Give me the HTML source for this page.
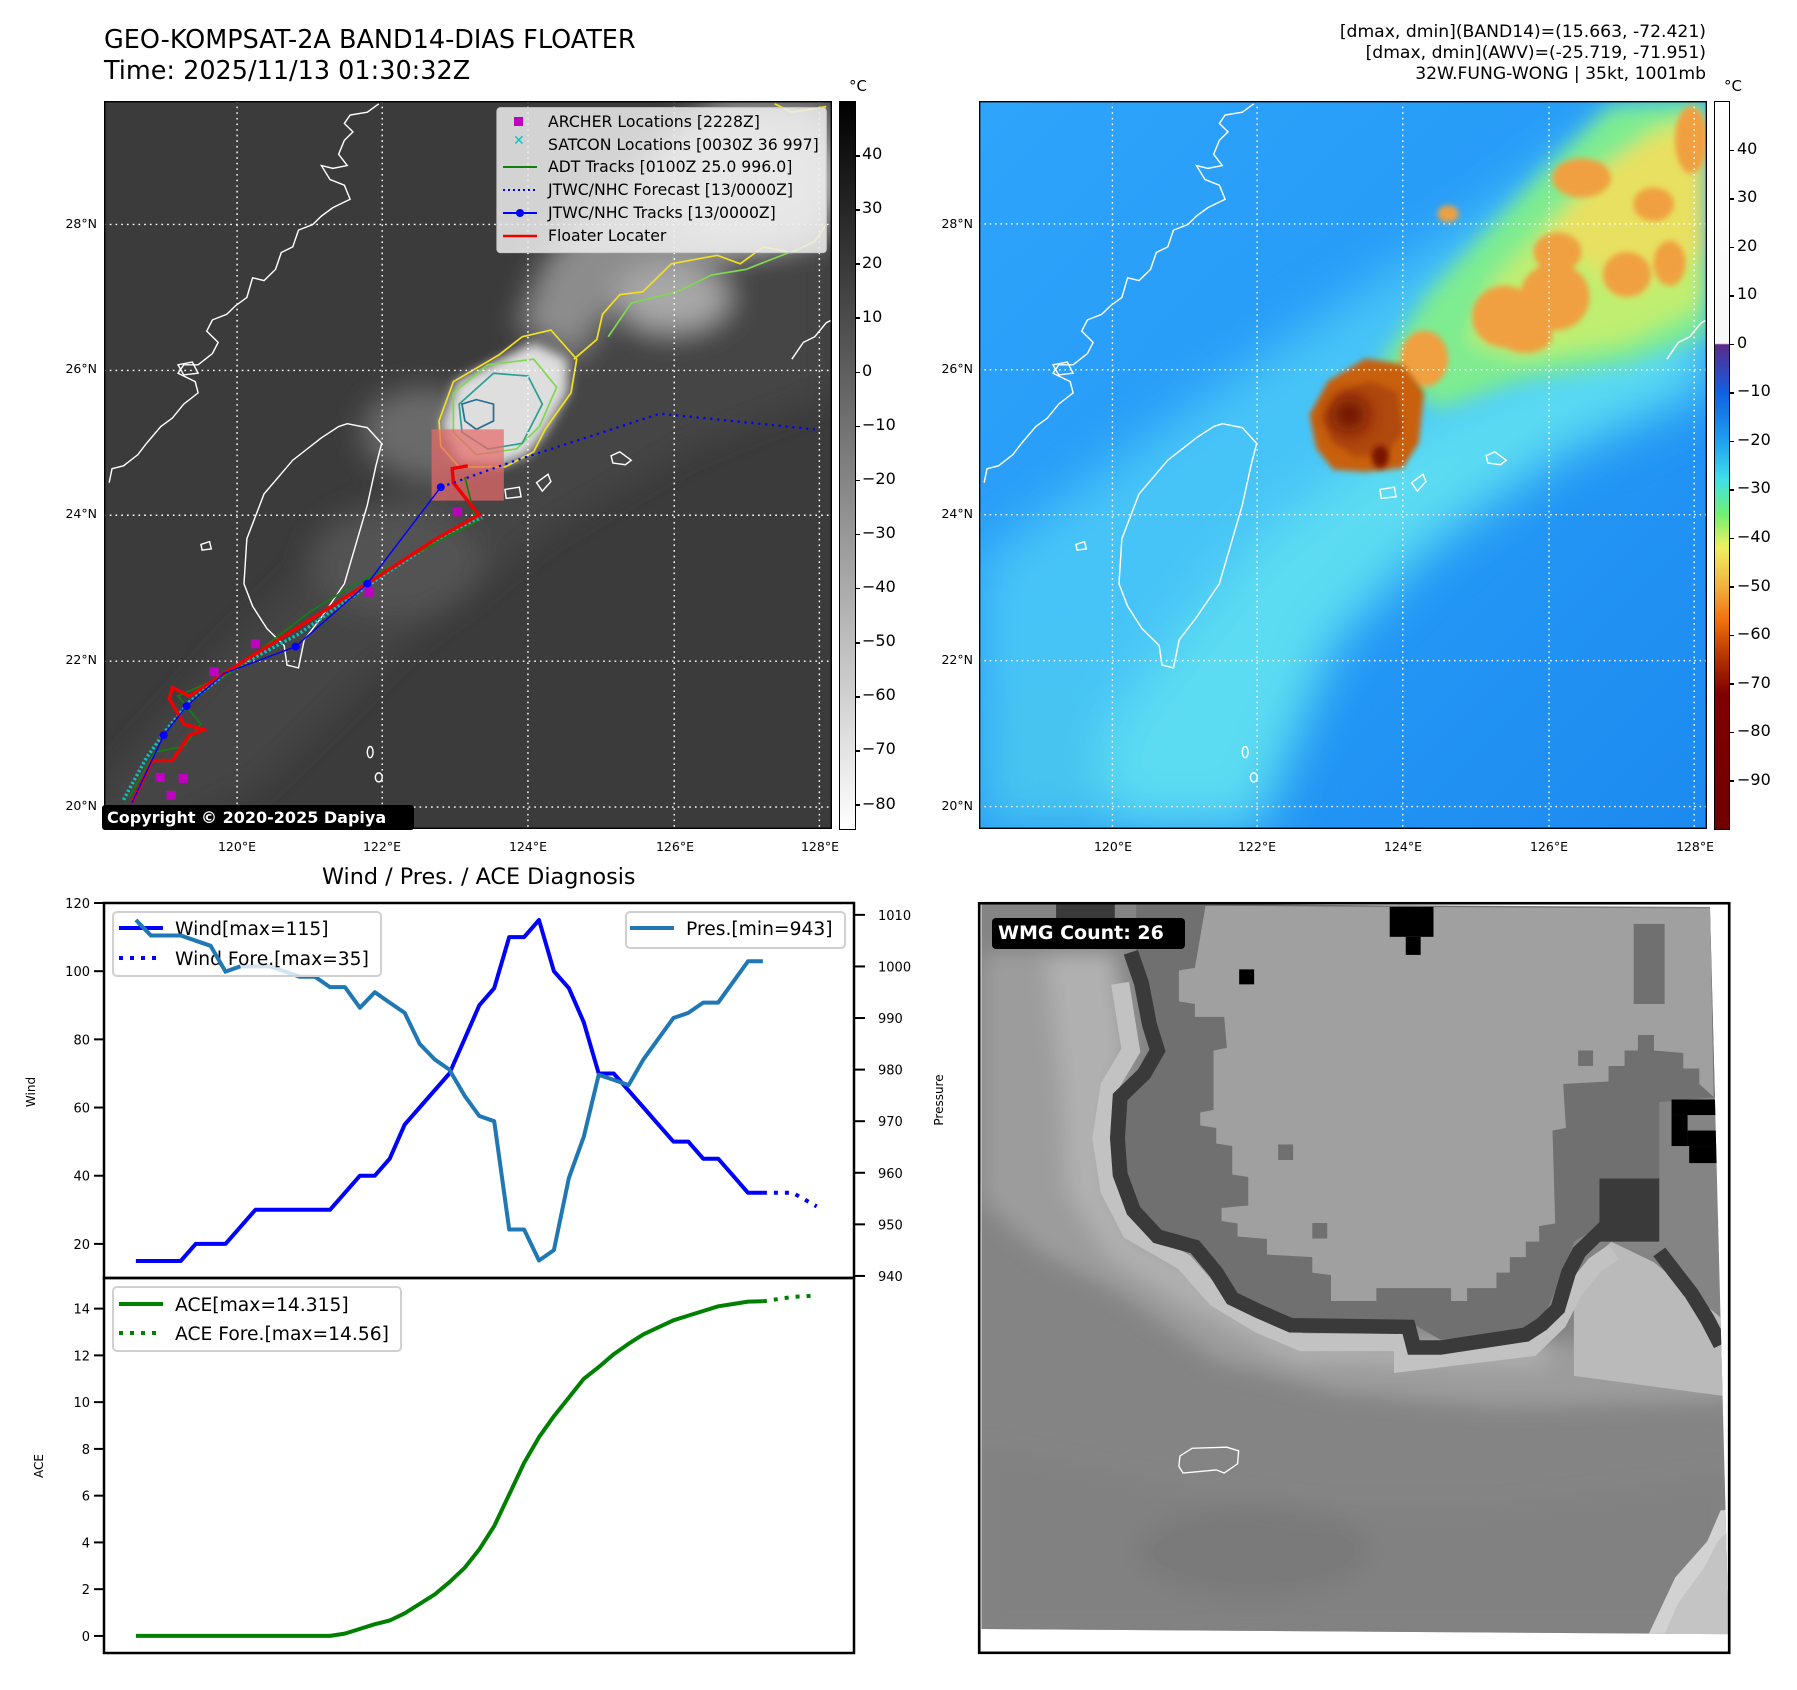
<!DOCTYPE html>
<html><head><meta charset="utf-8">
<style>
html,body{margin:0;padding:0;background:#fff;}
body{width:1797px;height:1690px;position:relative;overflow:hidden;font-family:"DejaVu Sans","Liberation Sans",sans-serif;color:#000;}
.t{position:absolute;white-space:nowrap;line-height:1;}
svg{position:absolute;overflow:hidden;}
</style></head>
<body>
<div class="t" style="left:104px;top:28px;font-size:25.5px;">GEO-KOMPSAT-2A BAND14-DIAS FLOATER</div>
<div class="t" style="left:104px;top:59px;font-size:25.5px;">Time: 2025/11/13 01:30:32Z</div>
<div class="t" style="right:91px;top:24px;font-size:17.2px;">[dmax, dmin](BAND14)=(15.663, -72.421)</div>
<div class="t" style="right:91px;top:45px;font-size:17.2px;">[dmax, dmin](AWV)=(-25.719, -71.951)</div>
<div class="t" style="right:91px;top:66px;font-size:17.2px;">32W.FUNG-WONG | 35kt, 1001mb</div>

<!-- LEFT MAP -->
<svg style="left:104px;top:101px;width:728px;height:728px" viewBox="181 180 1269 1297" preserveAspectRatio="none">
<defs>
<filter id="b1" x="-50%" y="-50%" width="200%" height="200%"><feGaussianBlur stdDeviation="25"/></filter>
<filter id="b2" x="-50%" y="-50%" width="200%" height="200%"><feGaussianBlur stdDeviation="10"/></filter>
<g id="coast" fill="none" stroke="#fff" stroke-width="2.5">
<polyline points="660,185 640,200 610,205 600,220 615,235 600,250 590,275 605,295 580,300 560,295 575,320 600,330 610,355 580,370 560,385 545,400 520,410 510,440 490,450 480,480 460,500 440,495 430,530 410,545 395,560 370,570 360,590 380,610 370,630 345,650 320,650 310,665 340,680 345,700 320,720 300,745 280,760 255,790 240,810 215,830 195,835 190,860"/>
<path d="M605,755 L640,762 L665,790 L655,830 L640,900 L620,970 L600,1040 L560,1100 L530,1140 L520,1190 L500,1185 L495,1150 L465,1120 L440,1080 L425,1040 L430,960 L460,880 L510,820 L560,780 L590,760 Z"/>
<path d="M1065,812 L1080,805 L1100,820 L1090,828 L1068,825 Z"/>
<path d="M880,872 L905,868 L908,885 L882,888 Z"/>
<path d="M935,860 L955,845 L960,858 L945,875 Z"/>
<path d="M310,650 L335,645 L345,665 L320,668 Z"/>
<polyline points="1380,640 1400,610 1420,600 1440,575 1450,570"/>
<ellipse cx="645" cy="1340" rx="5" ry="10"/>
<ellipse cx="660" cy="1385" rx="6" ry="8"/>
<path d="M350,970 L365,965 L368,978 L352,980 Z"/>
</g>
</defs>
<rect x="181" y="180" width="1269" height="1297" fill="#3b3b3b"/>
<g filter="url(#b1)">
<polygon points="181,1400 400,1150 600,950 800,800 1000,640 1250,460 1450,380 1450,700 1200,800 950,950 700,1150 450,1400 300,1477 181,1477" fill="#444"/>
<ellipse cx="690" cy="1000" rx="150" ry="100" fill="#535353"/>
<ellipse cx="740" cy="770" rx="110" ry="80" fill="#6a6a6a"/>
<polygon points="1000,640 1060,560 1150,490 1300,450 1450,420 1450,180 1250,180 1100,300 950,460 900,580" fill="#8c8c8c"/>
<ellipse cx="1300" cy="320" rx="170" ry="120" fill="#b8b8b8"/>
<ellipse cx="1170" cy="530" rx="100" ry="60" fill="#a8a8a8"/>
</g>
<path filter="url(#b2)" d="M770,760 L795,680 L870,640 L930,610 L990,640 L990,700 L950,770 L920,810 L870,830 L800,825 Z" fill="#dedede"/>
<g fill="none" stroke-width="3">
<path stroke="#f0e020" d="M765,750 L790,680 L870,632 L910,600 L960,588 L1005,640 L995,700 L950,765 L930,805 L880,832 L800,832 L768,795 Z"/>
<path stroke="#f0e020" d="M1000,640 L1040,605 L1050,560 L1080,525 L1120,520 L1170,470 L1250,455 L1290,470 L1330,440 L1380,450 L1420,430 L1440,400"/>
<path stroke="#f0e020" d="M1350,185 L1380,200 L1440,190"/>
<path stroke="#7fd850" d="M790,700 L850,650 L930,640 L970,690 L940,760 L900,800 L830,810 L790,770 Z"/>
<path stroke="#7fd850" d="M1060,600 L1100,540 L1180,520 L1240,490 L1300,480 L1400,440"/>
<path stroke="#2aa090" d="M800,720 L860,665 L920,670 L945,720 L910,790 L850,800 L805,770 Z"/>
<path stroke="#2a6e90" d="M805,720 L830,712 L860,720 L860,750 L830,765 L810,750 Z"/>
</g>
<g stroke="#fff" stroke-width="2.5" stroke-dasharray="3,7" fill="none">
<line x1="413" y1="180" x2="413" y2="1477"/><line x1="666" y1="180" x2="666" y2="1477"/><line x1="920" y1="180" x2="920" y2="1477"/><line x1="1175" y1="180" x2="1175" y2="1477"/><line x1="1428" y1="180" x2="1428" y2="1477"/>
<line x1="181" y1="400" x2="1450" y2="400"/><line x1="181" y1="660" x2="1450" y2="660"/><line x1="181" y1="918" x2="1450" y2="918"/><line x1="181" y1="1178" x2="1450" y2="1178"/><line x1="181" y1="1438" x2="1450" y2="1438"/>
</g>
<use href="#coast"/>
<rect x="752" y="765" width="126" height="127" fill="#e86a6a" fill-opacity="0.72"/>
<polyline points="215,1425 255,1350 290,1300 330,1250 400,1195 520,1130 660,1030 780,950 840,922" fill="none" stroke="#10c0c0" stroke-width="6" stroke-dasharray="4,4"/>
<polyline points="225,1420 270,1340 320,1330 350,1290 310,1240 400,1200 540,1090 620,1040 700,1000 800,945 830,930 810,850" fill="none" stroke="#108010" stroke-width="3"/>
<polyline points="230,1430 265,1355 300,1355 330,1310 355,1300 320,1290 295,1245 300,1225 330,1240 390,1200 500,1130 640,1040 760,960 830,920 835,918 790,860 788,835 815,830" fill="none" stroke="#f00000" stroke-width="6"/>
<polyline points="230,1430 285,1310 325,1258 390,1200 515,1152 640,1040 768,868" fill="none" stroke="#0000ff" stroke-width="2.5"/>
<polyline points="768,868 900,820 1150,737 1420,765" fill="none" stroke="#0000ff" stroke-width="4" stroke-dasharray="4,8"/>
<g fill="#0000ff"><circle cx="285" cy="1310" r="7"/><circle cx="325" cy="1258" r="7"/><circle cx="515" cy="1152" r="7"/><circle cx="640" cy="1040" r="7"/><circle cx="768" cy="868" r="7"/></g>
<g fill="#c000c0"><rect x="789" y="904" width="16" height="16"/><rect x="635" y="1047" width="16" height="16"/><rect x="437" y="1139" width="16" height="16"/><rect x="365" y="1189" width="16" height="16"/><rect x="271" y="1377" width="16" height="16"/><rect x="311" y="1379" width="16" height="16"/><rect x="290" y="1409" width="16" height="16"/></g>
<rect x="866" y="192" width="574" height="258" rx="6" fill="#efefef" fill-opacity="0.85" stroke="#ccc" stroke-width="2"/>
<rect x="181" y="180" width="1269" height="1297" fill="none" stroke="#000" stroke-width="5"/>
</svg>
<div>
<svg style="left:500px;top:112px;width:42px;height:132px" viewBox="0 0 42 132">
<rect x="14" y="5" width="9" height="9" fill="#c000c0"/>
<text x="13" y="33" font-size="14" fill="#10c0c0" font-family="DejaVu Sans" font-weight="bold">✕</text>
<line x1="3" y1="55" x2="37" y2="55" stroke="#108010" stroke-width="2"/>
<line x1="3" y1="78" x2="37" y2="78" stroke="#0000ff" stroke-width="2" stroke-dasharray="2,3"/>
<line x1="3" y1="101" x2="37" y2="101" stroke="#0000ff" stroke-width="2"/><circle cx="20" cy="101" r="4" fill="#0000ff"/>
<line x1="3" y1="124" x2="37" y2="124" stroke="#f00000" stroke-width="2.5"/>
</svg>
<div class="t" style="left:548px;top:114px;font-size:15.7px;">ARCHER Locations [2228Z]</div>
<div class="t" style="left:548px;top:137px;font-size:15.7px;">SATCON Locations [0030Z 36 997]</div>
<div class="t" style="left:548px;top:159px;font-size:15.7px;">ADT Tracks [0100Z 25.0 996.0]</div>
<div class="t" style="left:548px;top:182px;font-size:15.7px;">JTWC/NHC Forecast [13/0000Z]</div>
<div class="t" style="left:548px;top:205px;font-size:15.7px;">JTWC/NHC Tracks [13/0000Z]</div>
<div class="t" style="left:548px;top:228px;font-size:15.7px;">Floater Locater</div>
</div>
<div class="t" style="left:102px;top:805px;height:25px;width:312px;background:#000;color:#fff;font-weight:bold;font-size:16px;line-height:25px;border-radius:3px;padding-left:5px;box-sizing:border-box;">Copyright © 2020-2025 Dapiya</div>

<div style="position:absolute;left:839px;top:101px;width:15px;height:727px;border:1px solid #000;background:linear-gradient(#000,#fff);"></div>
<div class="t" style="left:849px;top:79px;font-size:15px;">°C</div>
<div id="lcb"></div>

<!-- RIGHT MAP -->
<svg style="left:979px;top:101px;width:728px;height:728px" viewBox="36 181 1364 1297" preserveAspectRatio="none">
<defs>
<linearGradient id="bg2" x1="0" y1="0" x2="1" y2="1"><stop offset="0" stop-color="#2ea4fb"/><stop offset="0.6" stop-color="#2498f6"/><stop offset="1" stop-color="#1c8af0"/></linearGradient>
<filter id="c1" x="-50%" y="-50%" width="200%" height="200%"><feGaussianBlur stdDeviation="45"/></filter>
<filter id="c2" x="-50%" y="-50%" width="200%" height="200%"><feGaussianBlur stdDeviation="18"/></filter>
<filter id="c3" x="-50%" y="-50%" width="200%" height="200%"><feGaussianBlur stdDeviation="5"/></filter>
</defs>
<rect x="36" y="181" width="1364" height="1297" fill="url(#bg2)"/>
<g filter="url(#c1)">
<polygon points="36,1000 250,850 500,680 750,520 950,400 1150,260 1250,181 1400,181 1400,700 1150,800 950,930 750,1080 600,1260 500,1478 36,1478" fill="#46c4f7"/>
<polygon points="150,1478 350,1200 560,960 780,800 1000,700 1400,560 1400,680 1100,820 880,970 700,1150 560,1478" fill="#5cdcf2"/>
<polygon points="36,1300 200,1150 300,1478 36,1478" fill="#46c4f0"/>
</g>
<g filter="url(#c2)">
<polygon points="780,660 880,520 1000,400 1100,300 1220,190 1400,181 1400,600 1250,650 1050,680 900,730" fill="#7eec90"/>
<polygon points="950,610 1000,500 1100,400 1200,310 1300,230 1400,200 1400,540 1250,610 1050,640" fill="#c0ee70"/>
<polygon points="1100,420 1200,300 1300,240 1400,220 1400,450 1250,520" fill="#e8e060"/>
</g>
<g filter="url(#c3)" fill="#f0a040">
<ellipse cx="1165" cy="318" rx="55" ry="35"/><ellipse cx="1300" cy="365" rx="38" ry="30"/><ellipse cx="1020" cy="565" rx="60" ry="55"/><ellipse cx="1115" cy="530" rx="65" ry="60"/><ellipse cx="1250" cy="490" rx="45" ry="40"/><ellipse cx="915" cy="382" rx="20" ry="15"/><ellipse cx="870" cy="640" rx="45" ry="50"/><ellipse cx="1120" cy="450" rx="45" ry="35"/><ellipse cx="1370" cy="250" rx="30" ry="60"/><ellipse cx="1060" cy="600" rx="50" ry="30"/><ellipse cx="1330" cy="470" rx="30" ry="40"/>
</g>
<path filter="url(#c3)" d="M655,740 L690,680 L760,640 L830,650 L870,700 L860,790 L830,835 L760,842 L700,838 L668,800 Z" fill="#c86010"/>
<path filter="url(#c3)" d="M680,745 L710,700 L770,680 L820,700 L830,770 L800,810 L740,815 L700,790 Z" fill="#b04808"/>
<ellipse filter="url(#c2)" cx="730" cy="740" rx="35" ry="30" fill="#6a1000"/>
<ellipse filter="url(#c3)" cx="788" cy="815" rx="16" ry="20" fill="#7a1800"/>
<g stroke="#fff" stroke-width="2.5" stroke-dasharray="3,7" fill="none">
<line x1="286" y1="181" x2="286" y2="1478"/><line x1="557" y1="181" x2="557" y2="1478"/><line x1="830" y1="181" x2="830" y2="1478"/><line x1="1104" y1="181" x2="1104" y2="1478"/><line x1="1376" y1="181" x2="1376" y2="1478"/>
<line x1="36" y1="400" x2="1400" y2="400"/><line x1="36" y1="660" x2="1400" y2="660"/><line x1="36" y1="918" x2="1400" y2="918"/><line x1="36" y1="1178" x2="1400" y2="1178"/><line x1="36" y1="1438" x2="1400" y2="1438"/>
</g>
<g transform="translate(36,181) scale(1.0749,1) translate(-181,-180)"><use href="#coast"/></g>
<rect x="36" y="181" width="1364" height="1297" fill="none" stroke="#000" stroke-width="5"/>
</svg>
<div style="position:absolute;left:1714px;top:101px;width:14px;height:727px;border:1px solid #000;background:linear-gradient(#fff 0%,#f8f8f8 33.2%,#5a2a8a 33.4%,#1060e0 40%,#20a0f0 46.7%,#40e0e8 52%,#70f070 56.7%,#f0f060 61.3%,#f0b040 66.7%,#f07010 71.3%,#b03000 76.7%,#800000 81.3%,#700000 100%);"></div>
<div class="t" style="left:1724px;top:79px;font-size:15px;">°C</div>
<div id="rcb"></div>
<div id="maplabels"></div>

<!-- WMG PANEL -->
<svg style="left:960px;top:880px;width:837px;height:810px" viewBox="0 0 1568 1568" preserveAspectRatio="none">
<defs>
<filter id="w1" x="-20%" y="-20%" width="140%" height="140%"><feGaussianBlur stdDeviation="20"/></filter>
<clipPath id="wc"><polygon points="40,45 1405,52 1440,1460 40,1450"/></clipPath>
</defs>
<rect x="36" y="45" width="1405" height="1451" fill="#fff"/>
<g clip-path="url(#wc)">
<rect x="36" y="45" width="1405" height="1420" fill="#848484"/>
<g filter="url(#w1)">
<polygon points="40,140 290,140 320,320 290,440 285,580 330,680 440,740 600,860 840,890 1100,890 1440,920 1440,1010 1000,1020 700,990 480,930 300,800 150,720 40,620" fill="#9c9c9c"/>
<polygon points="160,140 290,140 315,330 285,450 285,600 330,690 450,760 620,880 1100,900 1100,940 620,930 420,820 280,730 200,600 190,400" fill="#b0b0b0"/>
<polygon points="40,1100 400,1180 700,1220 1000,1220 1300,1180 1440,1150 1440,1460 40,1460" fill="#818181"/>
<ellipse cx="550" cy="1300" rx="220" ry="90" fill="#7a7a7a"/>
</g>
<polygon points="1150,770 1220,700 1300,740 1440,860 1440,1000 1150,960" fill="#bababa"/>
<polyline points="300,200 320,330 280,400 265,500 280,600 320,680 420,740 480,810 560,860 640,895 830,895 830,935 1070,905 1120,855 1150,795 1190,745 1225,720" fill="none" stroke="#c2c2c2" stroke-width="34"/>
<polygon points="330,45 1405,55 1415,420 1310,430 1310,580 1200,580 1200,670 1150,700 1130,760 1100,830 1060,870 900,890 850,860 620,850 560,825 500,790 460,740 410,700 360,670 320,620 300,560 300,430 350,380 380,320 350,200 330,140" fill="#707070"/>
<polyline points="320,140 340,200 355,280 370,330 345,375 300,420 295,500 300,570 325,640 370,690 440,710 480,760 510,810 560,835 620,862 840,865 850,905 900,905 1060,880 1090,860 1120,830 1140,760 1160,720 1190,690 1220,660" fill="none" stroke="#3a3a3a" stroke-width="28"/>
<polyline points="1310,720 1340,760 1370,800 1400,850 1425,900" fill="none" stroke="#3a3a3a" stroke-width="28"/>
<rect x="180" y="45" width="110" height="32" fill="#3a3a3a"/>
<rect x="1198" y="578" width="112" height="122" fill="#3a3a3a"/>
<polygon points="460,50 1405,55 1412,420 1385,395 1385,365 1355,365 1355,335 1300,330 1300,300 1270,300 1270,330 1245,330 1245,360 1215,360 1215,390 1130,395 1135,480 1110,485 1115,665 1085,670 1085,700 1060,700 1060,730 1030,730 1030,760 1005,760 1005,790 950,790 950,815 920,815 920,790 780,790 780,815 695,815 695,765 660,760 660,730 575,725 575,695 520,690 520,665 490,660 490,635 540,630 540,575 510,570 510,515 480,510 480,480 450,475 450,450 475,445 475,330 500,325 495,265 440,265 440,240 410,235 410,175 440,170" fill="#a0a0a0"/>
<rect x="1262" y="85" width="58" height="155" fill="#707070"/>
<rect x="1158" y="330" width="28" height="30" fill="#707070"/>
<rect x="596" y="512" width="28" height="30" fill="#707070"/>
<rect x="660" y="664" width="28" height="30" fill="#707070"/>
<g fill="#000"><rect x="805" y="52" width="82" height="58"/><rect x="835" y="110" width="28" height="35"/><rect x="523" y="173" width="28" height="29"/><rect x="1333" y="425" width="87" height="30"/><rect x="1333" y="455" width="30" height="60"/><rect x="1363" y="485" width="59" height="30"/><rect x="1366" y="515" width="56" height="33"/></g>
<polygon points="1290,1460 1340,1350 1400,1280 1425,1220 1440,1220 1440,1460" fill="#d2d2d2"/>
<polygon points="1320,1460 1345,1400 1395,1330 1420,1280 1440,1260 1440,1460" fill="#c4c4c4"/>
</g>
<path d="M412,1115 L435,1100 L500,1098 L522,1105 L520,1130 L495,1148 L480,1142 L418,1148 L410,1135 Z" fill="none" stroke="#fff" stroke-width="2.5"/>
<rect x="36" y="45" width="1405" height="1451" fill="none" stroke="#000" stroke-width="5"/>
</svg>
<div class="t" style="left:992px;top:918px;width:193px;height:31px;background:#000;color:#fff;font-weight:bold;font-size:19px;line-height:31px;border-radius:4px;padding-left:6px;box-sizing:border-box;">WMG Count: 26</div>

<!-- DIAGNOSIS CHART -->
<div class="t" style="left:322px;top:866px;font-size:22.3px;">Wind / Pres. / ACE Diagnosis</div>
<svg id="chart" style="left:0;top:880px;width:960px;height:810px" viewBox="0 880 960 810"></svg>

<script>
const xIndex = [0,1,2,3,4,5,6,7,8,9,10,11,12,13,14,15,16,17,18,19,20,21,22,23,24,25,26,27,28,29,30,31,32,33,34,35,36,37,38,39,40,41,42];
const windValues = [15,15,15,15,20,20,20,25,30,30,30,30,30,30,35,40,40,45,55,60,65,70,80,90,95,110,110,115,100,95,85,70,70,65,60,55,50,50,45,45,40,35,35];
const presValues = [1009,1006,1006,1006,1005,1004,999,1000,1000,1000,999,998,998,996,996,992,995,993,991,985,982,980,975,971,970,949,949,943,945,959,967,979,978,977,982,986,990,991,993,993,997,1001,1001];
const aceValues = [0,0,0,0,0,0,0,0,0,0,0,0,0,0,0.1,0.3,0.5,0.66,0.97,1.37,1.77,2.3,2.9,3.7,4.7,6.05,7.4,8.5,9.4,10.2,11.0,11.5,12.05,12.5,12.9,13.2,13.5,13.7,13.9,14.1,14.2,14.3,14.315];
const foreIndex = [42,44,45.6];
const windFore = [35,35,31];
const aceFore = [14.315,14.5,14.56];
const windTicks = [20,40,60,80,100,120];
const presTicks = [940,950,960,970,980,990,1000,1010];
const aceTicks = [0,2,4,6,8,10,12,14];
const btTicks = [40,30,20,10,0,-10,-20,-30,-40,-50,-60,-70,-80];
const awvTicks = [40,30,20,10,0,-10,-20,-30,-40,-50,-60,-70,-80,-90];

const NS = 'http://www.w3.org/2000/svg';
const svg = document.getElementById('chart');
const L = 104, R = 854, T1 = 903, B1 = 1278, B2 = 1653;
const xs = i => L + (i + 2.14) * (R - L) / 50.24;
const yw = v => T1 + (120 - v) * (B1 - T1) / 110;
const yp = v => T1 + (1012.3 - v) * (B1 - T1) / (1012.3 - 939.6);
const ya = v => B1 + (15.31 - v) * (B2 - B1) / 16.04;
function mk(tag, attrs, parent) { const e = document.createElementNS(NS, tag); for (const k in attrs) e.setAttribute(k, attrs[k]); (parent || svg).appendChild(e); return e; }
function pts(xa, ya_, f) { return xa.map((x, i) => xs(x).toFixed(1) + ',' + f(ya_[i]).toFixed(1)).join(' '); }

let p;
p = mk('polyline', { points: pts(xIndex, windValues, yw), fill: 'none', stroke: '#0000ff', 'stroke-width': 4, 'stroke-linejoin': 'round' });


p = mk('polyline', { points: pts(foreIndex, windFore, yw), fill: 'none', stroke: '#0000ff', 'stroke-width': 4, 'stroke-dasharray': '4,7' });


p = mk('polyline', { points: pts(xIndex, presValues, yp), fill: 'none', stroke: '#1f77b4', 'stroke-width': 4, 'stroke-linejoin': 'round' });


p = mk('polyline', { points: pts(xIndex, aceValues, ya), fill: 'none', stroke: '#008000', 'stroke-width': 4, 'stroke-linejoin': 'round' });


p = mk('polyline', { points: pts(foreIndex, aceFore, ya), fill: 'none', stroke: '#008000', 'stroke-width': 4, 'stroke-dasharray': '4,7' });



mk('rect', { x: L, y: T1, width: R - L, height: B1 - T1, fill: 'none', stroke: '#000', 'stroke-width': 2.5 });
mk('rect', { x: L, y: B1, width: R - L, height: B2 - B1, fill: 'none', stroke: '#000', 'stroke-width': 2.5 });
function tickL(v, f, name) {
  const y = f(v);
  mk('line', { x1: L - 10, x2: L, y1: y, y2: y, stroke: '#000', 'stroke-width': 2 });
  const t = mk('text', { x: L - 14, y: y + 5, 'text-anchor': 'end', 'font-size': 13, 'font-family': 'DejaVu Sans' });
  t.textContent = v;
  
  
}
windTicks.forEach(v => tickL(v, yw, 'wind-tick-label'));
aceTicks.forEach(v => tickL(v, ya, 'ace-tick-label'));
presTicks.forEach(v => {
  const y = yp(v);
  mk('line', { x1: R, x2: R + 11, y1: y, y2: y, stroke: '#000', 'stroke-width': 2 });
  const t = mk('text', { x: R + 24, y: y + 5, 'font-size': 13, 'font-family': 'DejaVu Sans' });
  t.textContent = v;
  
  
});
function rotLabel(txt, x, y, name) {
  const t = mk('text', { x: x, y: y, 'text-anchor': 'middle', 'font-size': 12, 'font-family': 'DejaVu Sans', transform: 'rotate(-90 ' + x + ' ' + y + ')' });
  t.textContent = txt;
  
  
}
rotLabel('Wind', 35, 1092, 'wind-axis-title');
rotLabel('Pressure', 943, 1100, 'pressure-axis-title');
rotLabel('ACE', 43, 1466, 'ace-axis-title');

function legend(x, y, w, h, rows, name) {
  const g = mk('g', {});
  
  
  mk('rect', { x: x, y: y, width: w, height: h, rx: 4, fill: '#fff', 'fill-opacity': 0.8, stroke: '#d0d0d0', 'stroke-width': 2 }, g);
  rows.forEach(r => {
    mk('line', { x1: r[0], x2: r[0] + 44, y1: r[1], y2: r[1], stroke: r[2], 'stroke-width': 4, 'stroke-dasharray': r[3] || 'none' }, g);
    const t = mk('text', { x: r[0] + 56, y: r[1] + 7, 'font-size': 18.7, 'font-family': 'DejaVu Sans' }, g);
    t.textContent = r[4];
  });
}
legend(113, 912, 268, 64, [[119, 928, '#0000ff', null, 'Wind[max=115]'], [119, 958, '#0000ff', '4,7', 'Wind Fore.[max=35]']], 'wind-legend');
legend(626, 912, 219, 36, [[630, 928, '#1f77b4', null, 'Pres.[min=943]']], 'pressure-legend');
legend(113, 1287, 288, 64, [[119, 1304, '#008000', null, 'ACE[max=14.315]'], [119, 1333, '#008000', '4,7', 'ACE Fore.[max=14.56]']], 'ace-legend');
p = mk('polyline', { points: pts(xIndex.slice(0, 8), presValues.slice(0, 8), yp), fill: 'none', stroke: '#1f77b4', 'stroke-width': 4 });



function lbl(parent, txt, x, y, size, name, anchor) {
  const d = document.createElement('div');
  d.className = 't';
  d.textContent = txt;
  d.style.fontSize = size + 'px';
  d.style.top = (y - size * 0.55) + 'px';
  if (anchor === 'right') { d.style.right = (1797 - x) + 'px'; }
  else if (anchor === 'center') { d.style.left = (x - 60) + 'px'; d.style.width = '120px'; d.style.textAlign = 'center'; }
  else d.style.left = x + 'px';
  
  
  parent.appendChild(d);
}
const lcb = document.getElementById('lcb'), rcb = document.getElementById('rcb'), ml = document.getElementById('maplabels');
const fmt = v => (v < 0 ? '\u2212' + (-v) : '' + v);
btTicks.forEach(v => {
  const y = 101 + (50 - v) * 5.41;
  const tk = document.createElement('div');
  tk.style.cssText = 'position:absolute;left:855px;width:5px;height:1.5px;background:#000;top:' + y + 'px';
  lcb.appendChild(tk);
  lbl(lcb, fmt(v), 862, y, 16, 'bt-colorbar-tick');
});
awvTicks.forEach(v => {
  const y = 101 + (50 - v) * 4.853;
  const tk = document.createElement('div');
  tk.style.cssText = 'position:absolute;left:1729px;width:5px;height:1.5px;background:#000;top:' + y + 'px';
  rcb.appendChild(tk);
  lbl(rcb, fmt(v), 1737, y, 16, 'awv-colorbar-tick');
});
const lonLabels = ['120°E', '122°E', '124°E', '126°E', '128°E'];
const latLabels = ['28°N', '26°N', '24°N', '22°N', '20°N'];
const lonXL = [237, 382, 528, 675, 820], lonXR = [1113, 1257, 1403, 1549, 1695], latY = [224.5, 370, 515, 661, 807];
lonLabels.forEach((s, i) => { lbl(ml, s, lonXL[i], 848, 12.5, 'left-map-lon-label', 'center'); lbl(ml, s, lonXR[i], 848, 12.5, 'right-map-lon-label', 'center'); });
latLabels.forEach((s, i) => { lbl(ml, s, 97, latY[i], 12.5, 'left-map-lat-label', 'right'); lbl(ml, s, 973, latY[i], 12.5, 'right-map-lat-label', 'right'); });
</script>
</body></html>
